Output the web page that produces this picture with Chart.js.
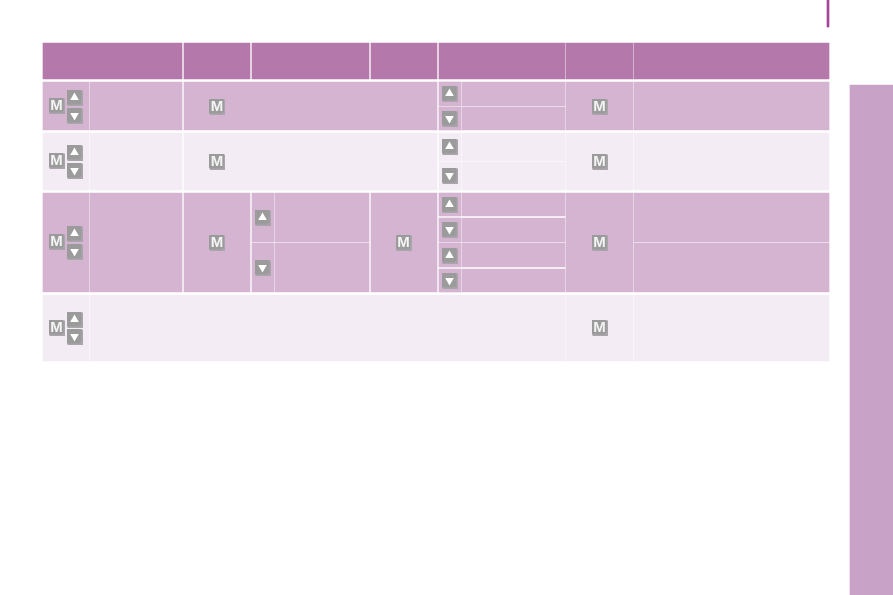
<!DOCTYPE html>
<html>
<head>
<meta charset="utf-8">
<title>Menu table</title>
<script src="https://cdn.jsdelivr.net/npm/chart.js@4"></script>
<style>
  html, body { margin: 0; padding: 0; background: #fff; overflow: hidden; }
  canvas { display: block; }
</style>
</head>
<body>
<canvas id="chart" width="893" height="595"></canvas>
<script>
// cells are [left, right, top, bottom] in axis units
const headerCells = [
  [43, 182, 43, 79], [184, 250, 43, 79], [252, 369, 43, 79], [371, 437, 43, 79],
  [439, 565, 43, 79], [566, 633, 43, 79], [634, 829, 43, 79]
];
const darkCells = [
  // first row
  [43, 89, 82, 130], [90, 182, 82, 130], [184, 437, 82, 130],
  [439, 461, 82, 106], [462, 565, 82, 106], [439, 461, 107, 130], [462, 565, 107, 130],
  [566, 633, 82, 130], [634, 829, 82, 130],
  // third row
  [43, 89, 193, 292], [90, 182, 193, 292], [184, 250, 193, 292],
  [252, 274, 193, 242], [275, 369, 193, 242], [252, 274, 243, 292], [275, 369, 243, 292],
  [371, 437, 193, 292],
  [439, 461, 193, 216], [462, 565, 193, 216], [439, 461, 218, 242], [462, 565, 218, 242],
  [439, 461, 243, 267], [462, 565, 243, 267], [439, 461, 269, 292], [462, 565, 269, 292],
  [566, 633, 193, 292], [634, 829, 193, 242], [634, 829, 243, 292]
];
const lightCells = [
  // second row
  [43, 89, 133, 190], [90, 182, 133, 190], [184, 437, 133, 190],
  [439, 461, 133, 161], [462, 565, 133, 161], [439, 461, 162, 190], [462, 565, 162, 190],
  [566, 633, 133, 190], [634, 829, 133, 190],
  // fourth row
  [43, 89, 295, 361], [90, 565, 295, 361], [566, 633, 295, 361], [634, 829, 295, 361]
];
const sidePanel = [[850, 893, 85, 595]];
const accentMarks = [[827, 829, 0, 27], [859, 893, 520, 522]];

// button positions [x, y]
const menuKeys = [
  [56.5, 105.5], [56.5, 160.5], [56.5, 241.5], [56.5, 327.5],
  [217, 106.5], [217, 161.5], [217, 242.5], [403.5, 242.5],
  [599.5, 106.5], [599.5, 161.5], [599.5, 242.5], [599.5, 327.5]
];
const upKeys = [
  [74.5, 97.5], [74.5, 152.5], [74.5, 233.5], [74.5, 319.5],
  [262.5, 217.5],
  [449.5, 93.5], [449.5, 146.5], [449.5, 204.5], [449.5, 255.5]
];
const downKeys = [
  [74.5, 115.5], [74.5, 170.5], [74.5, 251.5], [74.5, 336.5],
  [262.5, 267.5],
  [449.5, 118.5], [449.5, 175.5], [449.5, 229.5], [449.5, 280.5]
];

const headerColor = '#b478aa';
const darkColor = '#d5b4d2';
const lightColor = '#f3ecf4';
const sideColor = '#c9a3c7';
const accentColor = '#a4459b';

function barsFrom(cells, color) {
  return cells.map(function (c) {
    return {
      type: 'bar',
      indexAxis: 'y',
      data: [{ x: [c[0], c[1]], y: (c[2] + c[3]) / 2 }],
      barThickness: c[3] - c[2],
      backgroundColor: color,
      borderWidth: 0,
      grouped: false,
      order: 5
    };
  });
}

function toPoints(list) {
  return list.map(function (p) { return { x: p[0], y: p[1] }; });
}

// grey key with its paler corner shadow
function keyTile() {
  const c = document.createElement('canvas');
  c.width = 16;
  c.height = 16;
  const g = c.getContext('2d');
  g.fillStyle = '#aaa5aa';
  g.fillRect(1, 1, 15, 15);
  g.fillStyle = '#9b9b9b';
  g.beginPath();
  g.moveTo(0, 0);
  g.lineTo(15, 0);
  g.lineTo(15, 13);
  g.lineTo(13, 15);
  g.lineTo(0, 15);
  g.closePath();
  g.fill();
  return c;
}

const tile = keyTile();

function pointsFrom(list, extra) {
  return Object.assign({
    type: 'scatter',
    data: toPoints(list),
    showLine: false
  }, extra);
}

const menuSet = pointsFrom(menuKeys, { pointStyle: tile, order: 2 });

const keyLetters = {
  id: 'keyLetters',
  afterDatasetsDraw: function (chart) {
    const ctx = chart.ctx;
    const meta = chart.getDatasetMeta(chart.data.datasets.indexOf(menuSet));
    ctx.save();
    ctx.fillStyle = '#f4f4f4';
    ctx.font = 'bold 15px "Liberation Sans Narrow", "Liberation Sans", Arial, sans-serif';
    ctx.textAlign = 'center';
    ctx.textBaseline = 'middle';
    meta.data.forEach(function (el) {
      ctx.fillText('M', el.x, el.y + 0.5);
    });
    ctx.restore();
  }
};

new Chart(document.getElementById('chart'), {
  type: 'scatter',
  data: {
    datasets: [].concat(
      barsFrom(headerCells, headerColor),
      barsFrom(darkCells, darkColor),
      barsFrom(lightCells, lightColor),
      barsFrom(sidePanel, sideColor),
      barsFrom(accentMarks, accentColor),
      [
        menuSet,
        pointsFrom(upKeys.concat(downKeys), { pointStyle: tile, order: 2 }),
        pointsFrom(upKeys, { pointStyle: 'triangle', radius: 5, backgroundColor: '#ffffff', borderWidth: 0, order: 1 }),
        pointsFrom(downKeys, { pointStyle: 'triangle', rotation: 180, radius: 5, backgroundColor: '#ffffff', borderWidth: 0, order: 1 })
      ]
    )
  },
  options: {
    responsive: false,
    animation: false,
    devicePixelRatio: 1,
    layout: { padding: 0, autoPadding: false },
    plugins: { legend: { display: false }, tooltip: { enabled: false } },
    events: [],
    scales: {
      x: { type: 'linear', min: 0, max: 893, offset: false, display: false },
      y: { type: 'linear', min: 0, max: 595, offset: false, reverse: true, display: false }
    }
  },
  plugins: [keyLetters]
});
</script>
</body>
</html>
